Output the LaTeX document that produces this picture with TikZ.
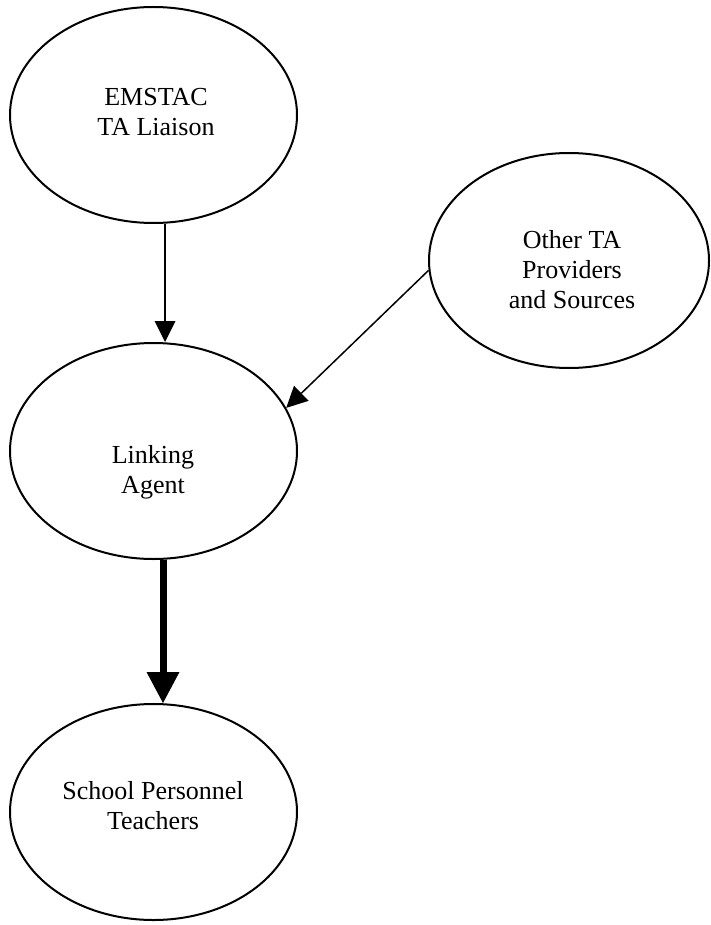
\documentclass[tikz,border=0pt]{standalone}
\usepackage{fontspec}
\setmainfont{Liberation Serif}
\usetikzlibrary{shapes.geometric,arrows.meta,calc}

\begin{document}
\begin{tikzpicture}[x=1pt,y=-1pt,
  bubble/.style={draw=black,line width=2pt,ellipse,inner sep=0pt,
    minimum width=287pt,minimum height=216pt},
  lbl/.style={align=center,inner sep=0pt,font=\fontsize{26}{30}\selectfont},
  thinarrow/.style={draw=black,line width=1.5pt,
    -{Triangle[length=21pt,width=21pt,line width=0pt]}},
  thickarrow/.style={draw=black,line width=7pt,
    -{Triangle[length=31pt,width=33pt,line width=0pt]}}]
  \useasboundingbox (0,0) rectangle (710,925);

  % the four actors
  \node[bubble] (emstac) at (153.5,115) {};
  \node[bubble,minimum width=280pt,minimum height=215pt] (other) at (569,260.5) {};
  \node[bubble] (link) at (153.5,451) {};
  \node[bubble] (school) at (153.5,812) {};

  % their captions
  \node[lbl] (emstacT) at (156,112) {EMSTAC\\TA Liaison};
  \node[lbl] (otherT) at (572,270) {Other TA\\Providers\\and Sources};
  \node[lbl] (linkT) at (153,472) {Linking\\Agent};
  \node[lbl] (schoolT) at (153,806) {School Personnel\\Teachers};

  % flow of assistance
  \draw[thinarrow] ($(emstac.south)+(11.5pt,0pt)$) -- ($(link.north)+(11.5pt,0pt)$);
  \draw[thinarrow] (other.184.7) -- (link.18.1);
  \draw[thickarrow] ($(link.south)+(9.5pt,0pt)$) -- ($(school.north)+(9.5pt,0pt)$);
\end{tikzpicture}
\end{document}
